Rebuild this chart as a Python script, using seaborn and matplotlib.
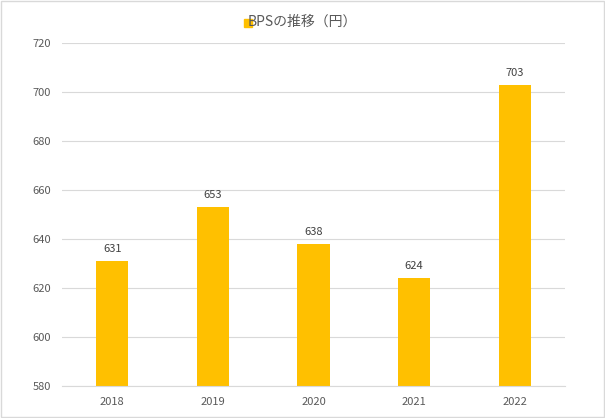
import matplotlib
matplotlib.use("Agg")
import matplotlib.pyplot as plt
import seaborn as sns
import pandas as pd

years = ["2018", "2019", "2020", "2021", "2022"]
bps = [631, 653, 638, 624, 703]
yticks = [580, 600, 620, 640, 660, 680, 700, 720]

df = pd.DataFrame({"year": years, "bps": bps})
plt.rcParams["font.family"] = ["Noto Sans CJK JP"]
fig = plt.figure(figsize=(6.05, 4.18), dpi=100)
ax = fig.add_axes([62/605, 1-386/418, (565-62)/605, (386-43)/418])
sns.barplot(data=df, x="year", y="bps", color="#FFC000", width=0.32, ax=ax, saturation=1)
ax.set_ylim(580, 720)
ax.set_yticks(yticks)
ax.set_xlabel(""); ax.set_ylabel("")
ax.grid(axis="y", color="#D9D9D9", linewidth=0.8)
ax.set_axisbelow(True)
for s in ["top", "right", "left"]:
    ax.spines[s].set_visible(False)
ax.spines["bottom"].set_color("#D9D9D9")
ax.tick_params(length=0, labelsize=8, colors="#595959", pad=8)
for c in ax.containers:
    ax.bar_label(c, fmt="%d", padding=5, fontsize=8, color="#404040")
fig.patches.append(plt.Rectangle((0.002, 0.002), 0.996, 0.996, transform=fig.transFigure,
                                 fill=False, edgecolor="#D9D9D9", linewidth=1))
fig.text(0.5, 1-22/418, "BPSの推移（円）", ha="center", va="center", fontsize=10, color="#595959")
fig.patches.append(plt.Rectangle((244/605, 1-27/418), 8/605, 8/418, transform=fig.transFigure,
                                 color="#FFC000"))
fig.savefig("out.png", dpi=100)
